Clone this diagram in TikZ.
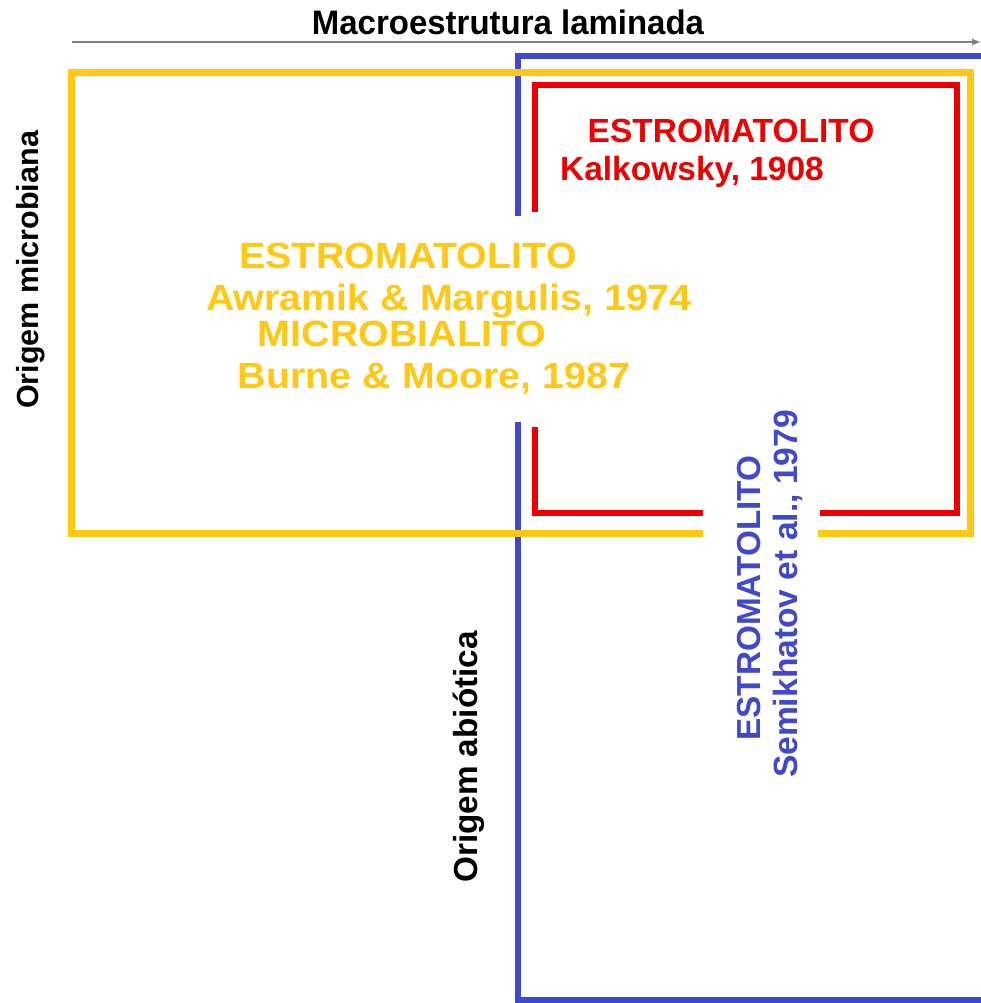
\documentclass[tikz,border=0pt]{standalone}
\usepackage{fontspec}
\setmainfont{Liberation Sans}
\usetikzlibrary{arrows.meta}
\definecolor{cyel}{RGB}{255,200,20}
\definecolor{cred}{RGB}{238,0,0}
\definecolor{cblue}{RGB}{64,72,204}
\definecolor{cgray}{RGB}{128,128,128}
\tikzset{
  lbl/.style={inner sep=0pt, font=\bfseries},
  ybox/.style={line width=7pt, draw=cyel},
  rbox/.style={line width=6pt, draw=cred},
  bbox/.style={line width=6pt, draw=cblue},
}
\begin{document}
\begin{tikzpicture}[x=1pt,y=-1pt]
\useasboundingbox (0,0) rectangle (981,1003);
\clip (0,0) rectangle (981,1003);
\fill[white] (0,0) rectangle (981,1003);
% title and arrow
\coordinate (arS) at (72,42);
\coordinate (arE) at (981,42);
\draw[cgray, line width=1.3pt, -{Latex[length=9pt,width=7pt]}] (arS) -- (arE);
\node[lbl, anchor=base, xscale=0.97, font=\bfseries\fontsize{34}{38}\selectfont] (title) at (508,35) {Macroestrutura laminada};
% blue box
\draw[bbox, line cap=rect] (990,56) -- (518,56) -- (518,213);
\draw[bbox, line cap=rect] (518,425) -- (518,1000) -- (990,1000);
% yellow box
\draw[ybox, line join=miter] (703,533) -- (71,533) -- (71,73) -- (970,73) -- (970,533) -- (818,533);
% red box
\draw[rbox, line join=miter] (535,212) -- (535,85) -- (957,85) -- (957,513) -- (820,513);
\draw[rbox, line join=miter] (703,513) -- (535,513) -- (535,427);
% red text
\node[lbl, text=cred, anchor=base, font=\bfseries\fontsize{33.5}{38}\selectfont] (r1) at (731,143) {ESTROMATOLITO};
\node[lbl, text=cred, anchor=base, font=\bfseries\fontsize{33.5}{38}\selectfont] (r2) at (692,181) {Kalkowsky, 1908};
% yellow text
\node[lbl, text=cyel, anchor=base, xscale=1.08, font=\bfseries\fontsize{36.5}{40}\selectfont] (y1) at (408,268) {ESTROMATOLITO};
\node[lbl, text=cyel, anchor=base, xscale=1.08, font=\bfseries\fontsize{36.5}{40}\selectfont] (y2) at (449,310) {Awramik \& Margulis, 1974};
\node[lbl, text=cyel, anchor=base, xscale=1.08, font=\bfseries\fontsize{36.5}{40}\selectfont] (y3) at (402,346) {MICROBIALITO};
\node[lbl, text=cyel, anchor=base, xscale=1.08, font=\bfseries\fontsize{36.5}{40}\selectfont] (y4) at (434,388) {Burne \& Moore, 1987};
% blue text
\node[lbl, text=cblue, rotate=90, anchor=base, font=\bfseries\fontsize{33.3}{38}\selectfont] (b1) at (760,598) {ESTROMATOLITO};
\node[lbl, text=cblue, rotate=90, anchor=base, font=\bfseries\fontsize{33.6}{38}\selectfont] (b2) at (797,594) {Semikhatov et al., 1979};
% axis labels
\node[lbl, rotate=90, anchor=base, font=\bfseries\fontsize{30.5}{36}\selectfont] (om) at (38,270) {Origem microbiana};
\node[lbl, rotate=90, anchor=base, font=\bfseries\fontsize{33.3}{38}\selectfont] (oa) at (477,757) {Origem abiótica};
\end{tikzpicture}
\end{document}
